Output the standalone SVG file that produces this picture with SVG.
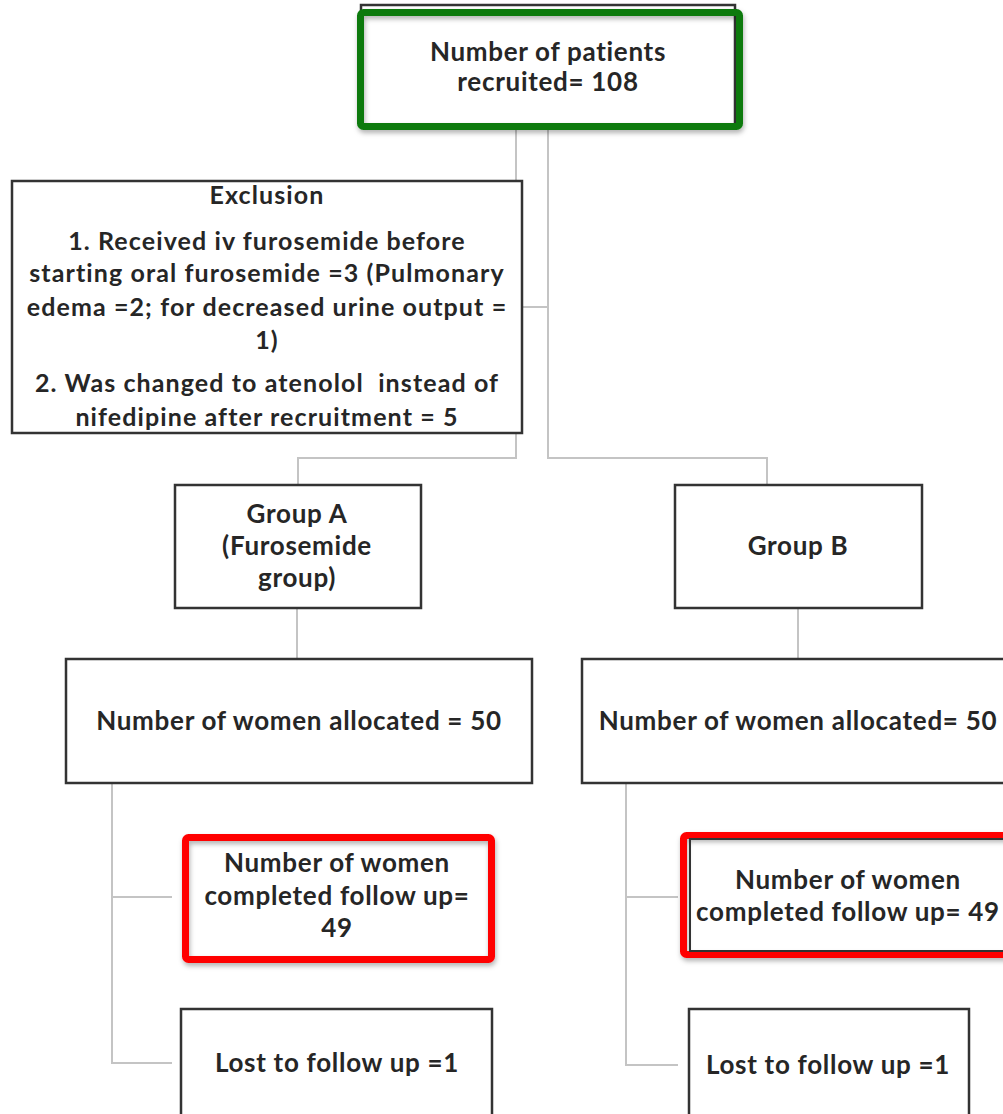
<svg xmlns="http://www.w3.org/2000/svg" width="1003" height="1114" viewBox="0 0 1003 1114">
<style>
  .box { fill: #ffffff; stroke: #333333; stroke-width: 2.5; }
  .inner { fill: none; stroke: #333333; stroke-width: 2; }
  .green { fill: none; stroke: #0b7a0b; stroke-width: 7; }
  .red { fill: none; stroke: #ff0000; stroke-width: 7; }
  .conn { fill: none; stroke: #c4c4c4; stroke-width: 2; }
  text { font-family: Lato, "Liberation Sans", sans-serif; font-weight: bold; font-size: 26px; letter-spacing: 0.7px; fill: #262626; text-anchor: middle; }
  .sm { font-size: 25px; letter-spacing: 1.1px; }
</style>
<defs>
  <filter id="sh" x="-10%" y="-10%" width="120%" height="130%">
    <feDropShadow dx="1" dy="3" stdDeviation="2.5" flood-color="#000000" flood-opacity="0.3"/>
  </filter>
</defs>
<rect width="1003" height="1114" fill="#ffffff"/>

<g id="connectors">
  <path class="conn" d="M516 128 V181"/>
  <path class="conn" d="M516 433 V458 H298 V485"/>
  <path class="conn" d="M548 128 V458 H767 V485"/>
  <path class="conn" d="M522 307 H548"/>
  <path class="conn" d="M297 608 V658"/>
  <path class="conn" d="M798 608 V658"/>
  <path class="conn" d="M112 783 V1063 H172"/>
  <path class="conn" d="M112 897 H172"/>
  <path class="conn" d="M626 783 V1065 H678"/>
  <path class="conn" d="M626 897 H678"/>
</g>

<g id="recruited">
  <rect class="box" x="361" y="5" width="374" height="120"/>
  <rect class="green" x="360.5" y="12.5" width="379" height="114" rx="3" filter="url(#sh)"/>
  <text x="548" y="61">Number of patients</text>
  <text x="548" y="91">recruited= 108</text>
</g>

<g id="exclusion">
  <rect class="box" x="12" y="181" width="510" height="252"/>
  <text class="sm" x="267" y="204">Exclusion</text>
  <text class="sm" x="267" y="250">1. Received iv furosemide before</text>
  <text class="sm" x="267" y="282">starting oral furosemide =3 (Pulmonary</text>
  <text class="sm" x="267" y="316">edema =2; for decreased urine output =</text>
  <text class="sm" x="267" y="349">1)</text>
  <text class="sm" x="267" y="392" xml:space="preserve">2. Was changed to atenolol  instead of</text>
  <text class="sm" x="267" y="426">nifedipine after recruitment = 5</text>
</g>

<g id="groupA">
  <rect class="box" x="175" y="485" width="246" height="123"/>
  <text x="297" y="523">Group A</text>
  <text x="297" y="555">(Furosemide</text>
  <text x="297" y="587">group)</text>
</g>

<g id="groupB">
  <rect class="box" x="675" y="485" width="247" height="123"/>
  <text x="798" y="555">Group B</text>
</g>

<g id="allocA">
  <rect class="box" x="66" y="659" width="466" height="124"/>
  <text x="299" y="730">Number of women allocated = 50</text>
</g>

<g id="allocB">
  <rect class="box" x="582" y="659" width="440" height="124"/>
  <text x="798" y="730">Number of women allocated= 50</text>
</g>

<g id="completedA">
  <rect x="185.5" y="837.5" width="306" height="122" rx="3" fill="#ffffff" class="red" filter="url(#sh)"/>
  <text x="337" y="872">Number of women</text>
  <text x="337" y="905">completed follow up=</text>
  <text x="337" y="937">49</text>
</g>

<g id="completedB">
  <rect x="683.5" y="835.5" width="340" height="119" rx="3" fill="#ffffff" class="red" filter="url(#sh)"/>
  <rect class="inner" x="690" y="839" width="330" height="112"/>
  <text x="848" y="889">Number of women</text>
  <text x="848" y="921">completed follow up= 49</text>
</g>

<g id="lostA">
  <rect class="box" x="181" y="1009" width="311" height="130"/>
  <text x="337" y="1072">Lost to follow up =1</text>
</g>

<g id="lostB">
  <rect class="box" x="689" y="1009" width="280" height="130"/>
  <text x="828" y="1074">Lost to follow up =1</text>
</g>
</svg>
